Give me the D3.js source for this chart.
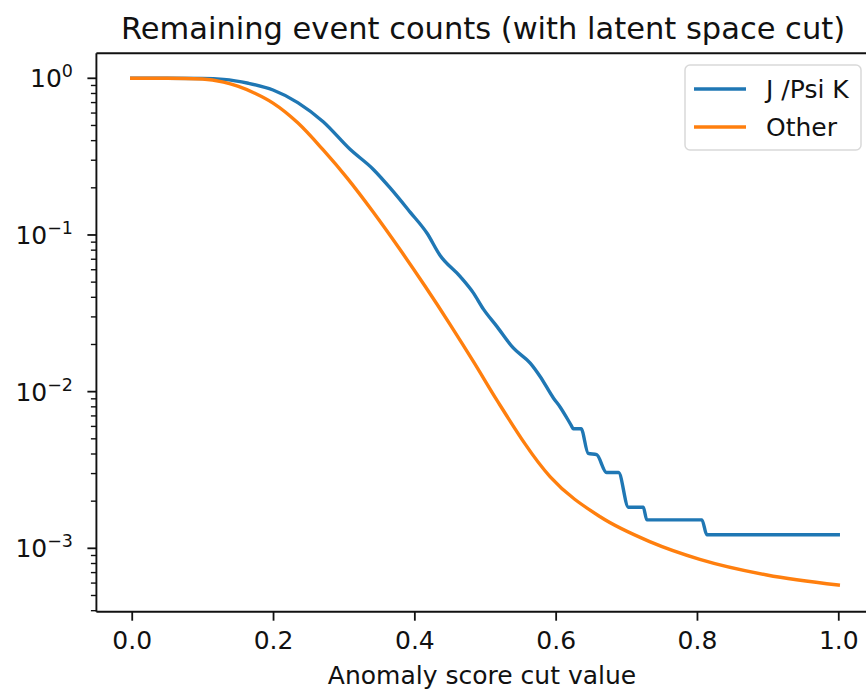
<!DOCTYPE html>
<html>
<head>
<meta charset="utf-8">
<script src="https://cdn.jsdelivr.net/npm/d3@7"></script>
<style>
  html, body { margin: 0; padding: 0; background: #fff; }
  svg { display: block; font-family: "DejaVu Sans", sans-serif; }
</style>
</head>
<body>
<svg id="chart" width="866" height="692"></svg>
<script>
// ---- data ----
const seriesNames = ["J /Psi K", "Other"];
const seriesColors = ["#1f77b4", "#ff7f0e"];

const jpsiX = [0, 0.05, 0.1, 0.13, 0.165, 0.2, 0.235, 0.271, 0.309, 0.342, 0.366, 0.394, 0.418, 0.436, 0.465, 0.483, 0.498, 0.517, 0.540, 0.564, 0.578, 0.597, 0.606, 0.622, 0.625, 0.636, 0.646, 0.658, 0.672, 0.689, 0.703, 0.724, 0.729, 0.807, 0.814, 1.0];
const jpsiY = [1, 1, 0.998, 0.985, 0.93, 0.842, 0.70, 0.528, 0.352, 0.262, 0.199, 0.140, 0.1025, 0.0745, 0.0542, 0.0430, 0.0335, 0.0260, 0.0190, 0.0152, 0.0125, 0.00908, 0.00802, 0.0061, 0.0058, 0.0058, 0.00404, 0.00396, 0.00305, 0.00305, 0.00183, 0.00183, 0.00152, 0.00152, 0.00122, 0.00122];

const otherX = [0, 0.05, 0.1, 0.13, 0.15, 0.175, 0.2, 0.235, 0.271, 0.305, 0.342, 0.38, 0.415, 0.45, 0.485, 0.517, 0.592, 0.663, 0.734, 0.804, 0.899, 1.0];
const otherY = [1, 1, 0.99, 0.946, 0.89, 0.80, 0.695, 0.52, 0.349, 0.2307, 0.1396, 0.0804, 0.0472, 0.0271, 0.0152, 0.00879, 0.00287, 0.00159, 0.00110, 0.000851, 0.000676, 0.000583];

const xTicks = [0, 0.2, 0.4, 0.6, 0.8, 1.0];
const xTickLabels = ["0.0", "0.2", "0.4", "0.6", "0.8", "1.0"];
const yMajorExps = [0, -1, -2, -3];
const titleText = "Remaining event counts (with latent space cut)";
const xLabelText = "Anomaly score cut value";

// ---- layout ----
const pL = 96.4, pR = 873.6, pT = 53.3, pB = 611.7;
const ink = "#111";
const svg = d3.select("#chart");

const x = d3.scaleLinear().domain([-0.05, 1.05]).range([pL, pR]);
const y = d3.scaleLog().domain([3.94e-4, 1.444]).range([pB, pT]);

const series = [
  { name: seriesNames[0], color: seriesColors[0], pts: jpsiX.map((v, i) => [v, jpsiY[i]]) },
  { name: seriesNames[1], color: seriesColors[1], pts: otherX.map((v, i) => [v, otherY[i]]) }
];

const line = d3.line().x(d => x(d[0])).y(d => y(d[1])).curve(d3.curveMonotoneX);

svg.append("g").selectAll("path").data(series).join("path")
  .attr("d", d => line(d.pts))
  .attr("fill", "none")
  .attr("stroke", d => d.color)
  .attr("stroke-width", 3.4)
  .attr("stroke-linejoin", "round")
  .attr("stroke-linecap", "square");

// ---- axes ----
const xAxis = d3.axisBottom(x).tickValues(xTicks).tickFormat((d, i) => xTickLabels[i]).tickSize(9).tickPadding(0);
const gx = svg.append("g").attr("transform", `translate(0,${pB})`).call(xAxis);
gx.select(".domain").remove();
gx.selectAll(".tick line").attr("stroke", ink).attr("stroke-width", 1.8);
gx.selectAll(".tick text").attr("font-size", 25).attr("fill", ink)
  .attr("font-family", "DejaVu Sans").attr("dy", null).attr("y", 37);

// y minor ticks
const minorVals = [];
for (let e = -4; e <= 0; e++) {
  for (let m = 2; m <= 9; m++) {
    const v = m * Math.pow(10, e);
    if (v >= 3.94e-4 && v <= 1.444) minorVals.push(v);
  }
}
svg.append("g").selectAll("line").data(minorVals).join("line")
  .attr("x1", pL - 5.5).attr("x2", pL)
  .attr("y1", d => y(d)).attr("y2", d => y(d))
  .attr("stroke", ink).attr("stroke-width", 1.4);

const gy = svg.append("g");
gy.selectAll("line").data(yMajorExps).join("line")
  .attr("x1", pL - 9).attr("x2", pL)
  .attr("y1", d => y(Math.pow(10, d))).attr("y2", d => y(Math.pow(10, d)))
  .attr("stroke", ink).attr("stroke-width", 1.8);

const ylab = gy.selectAll("text").data(yMajorExps).join("text")
  .attr("x", 73)
  .attr("y", d => y(Math.pow(10, d)) + 9)
  .attr("text-anchor", "end")
  .attr("font-size", 25)
  .attr("fill", ink);
ylab.append("tspan").text("10");
ylab.append("tspan").attr("dy", -10).attr("font-size", 17.5).text(d => d === 0 ? "0" : "\u2212" + Math.abs(d));

// spines
const spine = (x1, y1, x2, y2) => svg.append("line").attr("x1", x1).attr("x2", x2).attr("y1", y1).attr("y2", y2)
  .attr("stroke", ink).attr("stroke-width", 1.9);
spine(pL, pT, pL, pB);
spine(pL, pB, pR, pB);
spine(pL, pT, pR, pT);
spine(pR, pT, pR, pB);

// title and label
svg.append("text").attr("x", (pL + pR) / 2 - 2).attr("y", 38.5)
  .attr("text-anchor", "middle").attr("font-size", 30.5).attr("fill", ink).text(titleText);
svg.append("text").attr("x", (pL + pR) / 2 - 3).attr("y", 684)
  .attr("text-anchor", "middle").attr("font-size", 25).attr("fill", ink).text(xLabelText);

// legend
const lg = svg.append("g");
lg.append("rect").attr("x", 685).attr("y", 65).attr("width", 176).attr("height", 85)
  .attr("rx", 5).attr("fill", "#fff").attr("fill-opacity", 0.8)
  .attr("stroke", "#d9d9d9").attr("stroke-width", 1.5);
const le = lg.selectAll("g").data(series).join("g")
  .attr("transform", (d, i) => `translate(0,${89 + i * 38})`);
le.append("line").attr("x1", 694).attr("x2", 746).attr("y1", 0).attr("y2", 0)
  .attr("stroke", d => d.color).attr("stroke-width", 3.4);
le.append("text").attr("x", 766).attr("y", 9).attr("font-size", 25).attr("fill", ink)
  .text(d => d.name);
</script>
</body>
</html>
